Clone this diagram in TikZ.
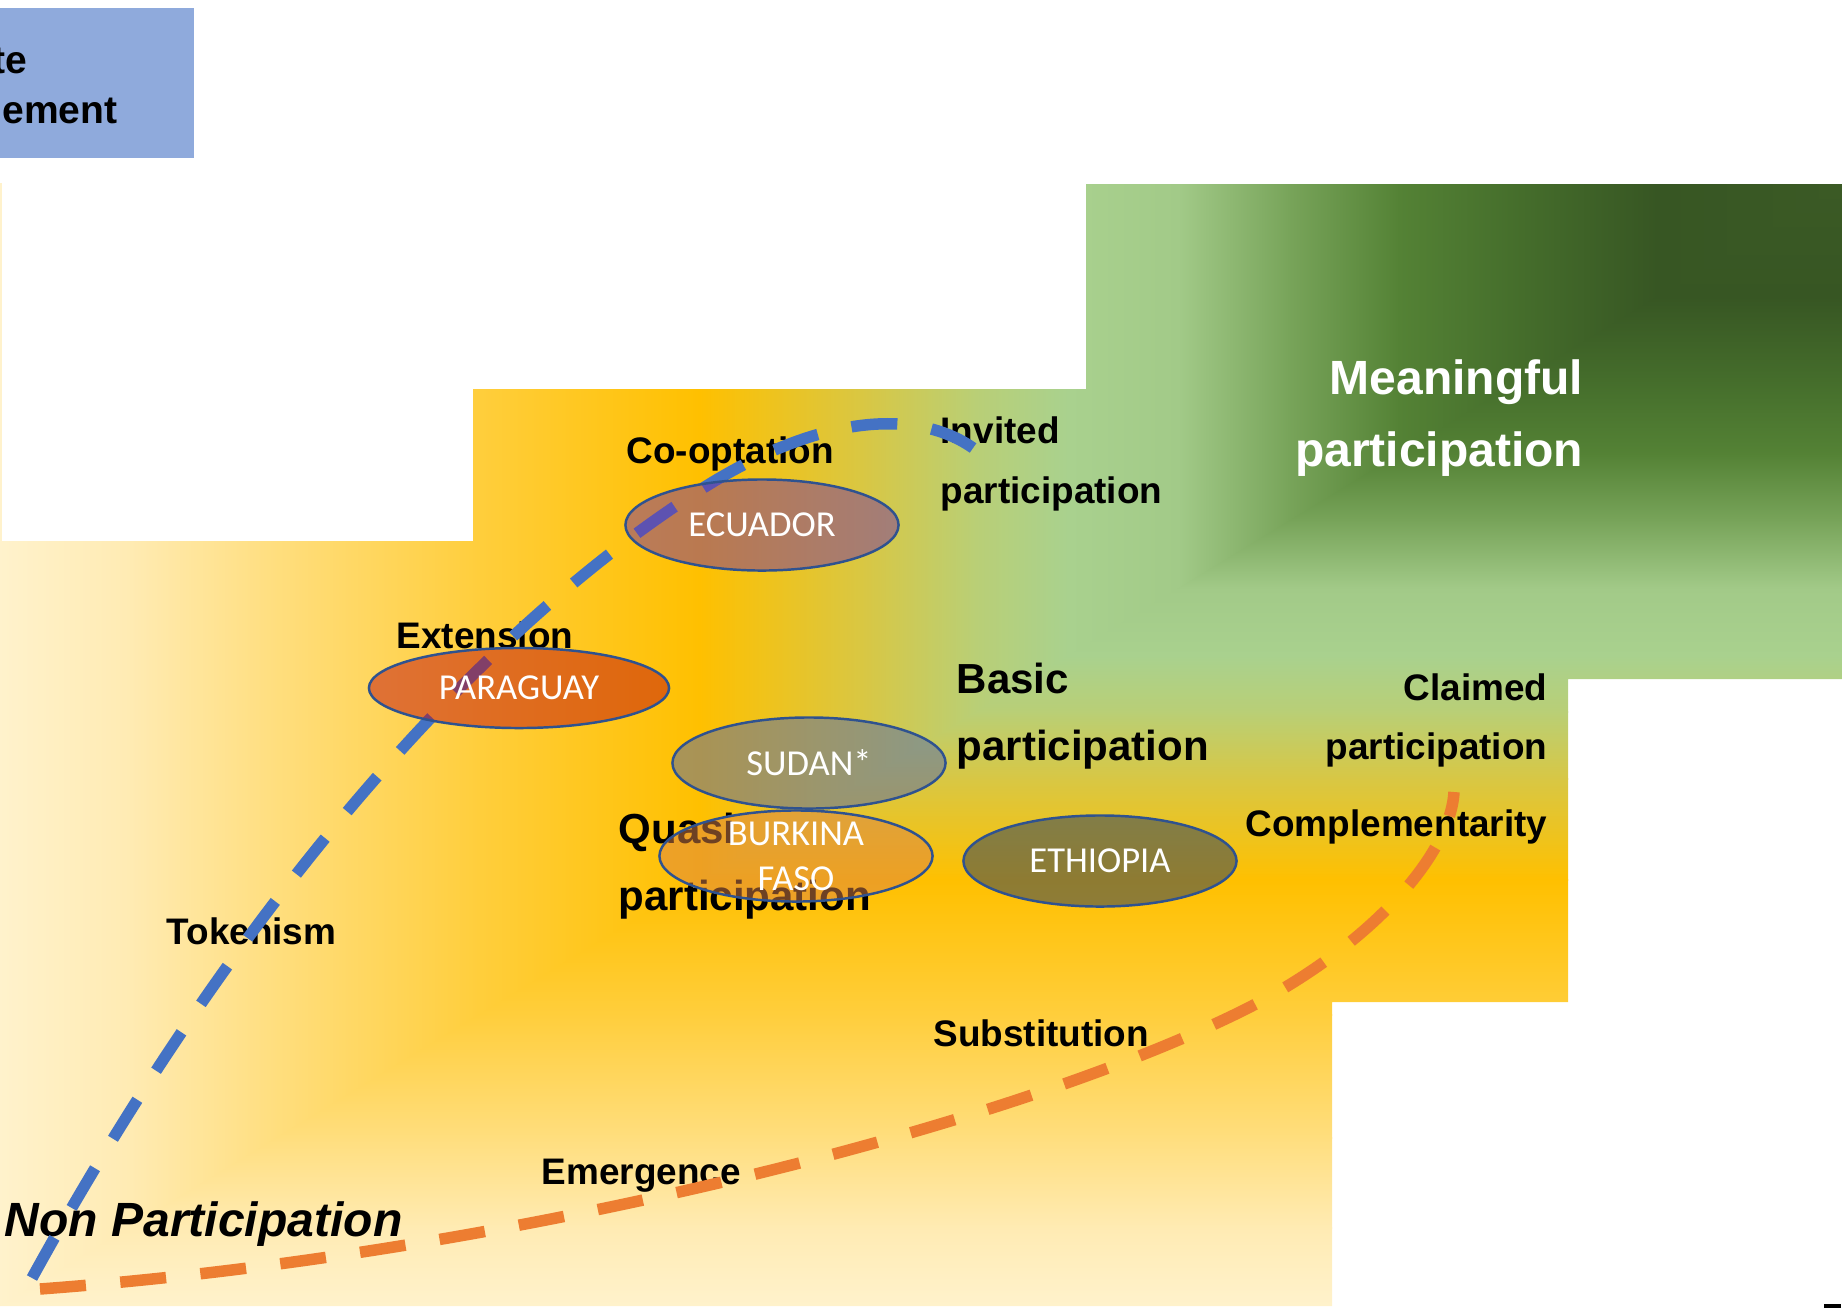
\documentclass[tikz,border=0pt]{standalone}
\usepackage{fontspec}
\setmainfont{Liberation Sans}
\newfontfamily\calibrifont{Carlito}
\usepackage{xcolor}
\usepackage{tikz}
\usetikzlibrary{shapes.geometric}

\definecolor{grA}{HTML}{3B5A25}
\definecolor{grB}{HTML}{375623}
\definecolor{grC}{HTML}{466F2C}
\definecolor{grD}{HTML}{548235}
\definecolor{grE}{HTML}{78A45A}
\definecolor{grF}{HTML}{A2CA88}
\definecolor{grG}{HTML}{A9D18E}
\definecolor{grH}{HTML}{B9CF76}
\definecolor{grI}{HTML}{D8C744}
\definecolor{grJ}{HTML}{FFC000}
\definecolor{grK}{HTML}{FFCE3C}
\definecolor{grL}{HTML}{FFDE7E}
\definecolor{grM}{HTML}{FFEBB3}
\definecolor{grN}{HTML}{FFF2CC}
\definecolor{boxblue}{HTML}{8FAADC}
\definecolor{lineblue}{HTML}{4472C4}
\definecolor{lineorange}{HTML}{ED7D31}
\definecolor{rimblue}{HTML}{2F528F}
\definecolor{fillEcuador}{HTML}{7634A0}
\definecolor{fillParaguay}{HTML}{C10E0E}
\definecolor{fillSudan}{HTML}{5468AA}
\definecolor{fillBurkina}{HTML}{DC8246}
\definecolor{fillEthiopia}{HTML}{1F3864}

\def\stairstops{1.00/0.93/grN/grM, 0.93/0.85/grM/grL, 0.85/0.74/grL/grK, 0.74/0.62/grK/grJ,
  0.62/0.53/grJ/grI, 0.53/0.47/grI/grH, 0.47/0.42/grH/grG, 0.42/0.36/grG/grF,
  0.36/0.30/grF/grE, 0.30/0.24/grE/grD, 0.24/0.18/grD/grC, 0.18/0.10/grC/grB, 0.10/0.00/grB/grA}

\begin{document}
\begin{tikzpicture}[
	x=0.01cm, y=-0.01cm,
	font=\bfseries
]
\tikzset{
    stagetext/.style = {inner sep=0, font=\fontsize{10.5}{12.6}\selectfont\bfseries},
    stagebig/.style = {inner sep=0, font=\fontsize{11.95}{14}\selectfont\bfseries},
    stagehuge/.style = {inner sep=0, font=\fontsize{13.66}{16}\selectfont\bfseries},
    countryoval/.style = {ellipse, draw=rimblue, line width=0.7pt, fill opacity=0.5, minimum width=2.73cm, minimum height=0.91cm, inner sep=0},
    countryname/.style = {inner sep=0, text=white, align=center, font=\calibrifont\fontsize{10.4}{12.8}\selectfont},
    trackline/.style = {line width=0.115cm, dash pattern=on 0.46cm off 0.345cm}
}
\useasboundingbox (0,0) rectangle (1844,1308);

\fill[boxblue] (0,8) rectangle (194,158);
\node[inner sep=0, anchor=base east, font=\fontsize{11.1}{13}\selectfont\bfseries] (boxline1) at (28,73) {te};
\node[inner sep=0, anchor=base east, font=\fontsize{11.1}{13}\selectfont\bfseries] (boxline2) at (118,123) {ement};
\fill[grN] (0,183) rectangle (2,541);
\fill[black] (1824,1304) rectangle (1841,1308);

\begin{scope}
\clip (0,1306) -- (0,541) -- (473,541) -- (473,389) -- (1086,389) -- (1086,184) -- (1842,184)
  -- (1842,679) -- (1568,679) -- (1568,1002) -- (1332,1002) -- (1332,1306) -- cycle;
\foreach \ta/\tb/\ca/\cb in \stairstops {
  \pgfmathsetmacro\ya{184+1122*\ta}
  \pgfmathsetmacro\yb{184+1122*\tb}
  \shade[top color=\cb, bottom color=\ca] (0,\yb) rectangle (1842,\ya+1);
}
\begin{scope}
\clip (0,184) -- (1842,184) -- (0,1306) -- cycle;
\foreach \ta/\tb/\ca/\cb in \stairstops {
  \pgfmathsetmacro\xa{1842*(1-\ta)}
  \pgfmathsetmacro\xb{1842*(1-\tb)}
  \shade[left color=\ca, right color=\cb] (\xa-1,184) rectangle (\xb,1306);
}
\end{scope}
\end{scope}

\node[stagetext, anchor=base west] (cooptation) at (626,463) {Co-optation};
\node[stagetext, anchor=base west] (invited1) at (940,443) {Invited};
\node[stagetext, anchor=base west] (invited2) at (940,503) {participation};
\node[stagetext, anchor=base west] (extension) at (396,648) {Extension};
\node[stagebig, anchor=base west] (basic1) at (956,693) {Basic};
\node[stagebig, anchor=base west] (basic2) at (956,760) {participation};
\node[stagebig, anchor=base west] (quasi1) at (618,843) {Quasi};
\node[stagebig, anchor=base west] (quasi2) at (618,910) {participation};
\node[stagetext, anchor=base east] (claimed1) at (1548,700) {Claimed};
\node[stagetext, anchor=base east] (claimed2) at (1548,759) {participation};
\node[stagetext, anchor=base east] (complement) at (1548,836) {Complementarity};
\node[stagehuge, anchor=base east, text=white] (meaning1) at (1584,394) {Meaningful};
\node[stagehuge, anchor=base east, text=white] (meaning2) at (1584,466) {participation};
\node[stagetext, anchor=base west] (tokenism) at (166,944) {Tokenism};
\node[stagetext, anchor=base west] (substitution) at (933,1046) {Substitution};
\node[stagetext, anchor=base west] (emergence) at (541,1184) {Emergence};
\node[stagehuge, anchor=base west, font=\fontsize{13.66}{16}\selectfont\bfseries\itshape] (nonpart) at (4,1236) {Non Participation};

\coordinate (blueStart) at (32,1278);
\coordinate (blueBend) at (700,490);
\coordinate (blueEnd) at (982,455);
\draw[trackline, lineblue] (blueStart) .. controls (240,900) and (480,630) .. (blueBend)
  .. controls (830,407) and (930,410) .. (blueEnd);
\coordinate (orangeStart) at (40,1289);
\coordinate (orangeBend) at (1240,1012);
\coordinate (orangeEnd) at (1454,792);
\draw[trackline, lineorange] (orangeStart) .. controls (500,1255) and (1000,1130) .. (orangeBend)
  .. controls (1360,953) and (1450,860) .. (orangeEnd);

\node[countryoval, fill=fillEcuador] (ecuador) at (762,525) {};
\node[countryoval, fill=fillParaguay, minimum width=3.0cm, minimum height=0.8cm] (paraguay) at (519,688) {};
\node[countryoval, fill=fillSudan] (sudan) at (809,763) {};
\node[countryoval, fill=fillBurkina] (burkina) at (796,856) {};
\node[countryoval, fill=fillEthiopia] (ethiopia) at (1100,861) {};
\node[countryname] (ecuadorname) at (ecuador) {ECUADOR};
\node[countryname] (paraguayname) at (paraguay) {PARAGUAY};
\node[countryname] (sudanname) at (sudan) {SUDAN*};
\node[countryname] (burkinaname) at (burkina) {BURKINA\\FASO};
\node[countryname] (ethiopianame) at (ethiopia) {ETHIOPIA};
\end{tikzpicture}
\end{document}
